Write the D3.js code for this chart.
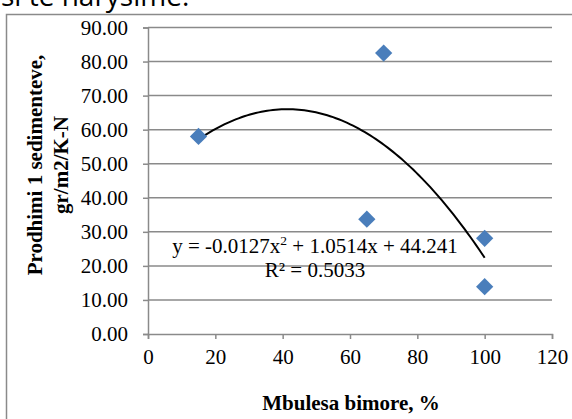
<!DOCTYPE html>
<html>
<head>
<meta charset="utf-8">
<script src="https://cdn.jsdelivr.net/npm/d3@7"></script>
<style>
  html, body { margin: 0; padding: 0; background: #fff; }
  svg { display: block; }
</style>
</head>
<body>
<svg id="chart" width="572" height="419"></svg>
<script>
// Vegetation cover (%) against sediment production
const coverX = [15, 70, 65, 100, 100];
const sedimentY = [58.0, 82.5, 33.7, 28.1, 13.9];
const yTicks = [0, 10, 20, 30, 40, 50, 60, 70, 80, 90];
const xTicks = [0, 20, 40, 60, 80, 100, 120];
// Second-order polynomial trend: y = a x^2 + b x + c
const trendCoef = [-0.0127, 1.0514, 44.241];
const rSquared = "0.5033";

const svg = d3.select("#chart");
const serif = "'Liberation Serif', 'Times New Roman', serif";
const gridColor = "#8a8a8a";
const fs = 21;

// text of the page running above the chart frame
svg.append("text")
  .attr("x", 1).attr("y", 5.5)
  .attr("font-family", "'Open Sans', sans-serif")
  .attr("font-size", 28)
  .attr("fill", "#000")
  .text("si te harysime.");

// chart frame
svg.append("rect")
  .attr("x", 6.5).attr("y", 14.5)
  .attr("width", 600).attr("height", 440)
  .attr("fill", "#fff")
  .attr("stroke", "#8a8a8a").attr("stroke-width", 1.5);

const x = d3.scaleLinear().domain([0, 120]).range([148, 552]);
const y = d3.scaleLinear().domain([0, 90]).range([334, 27.5]);

// horizontal gridlines
svg.append("g")
  .selectAll("line")
  .data(yTicks.filter(d => d > 0))
  .join("line")
  .attr("x1", x(0)).attr("x2", x(120))
  .attr("y1", d => y(d)).attr("y2", d => y(d))
  .attr("stroke", gridColor).attr("stroke-width", 1.5);

// y axis
const yAxis = svg.append("g")
  .attr("transform", `translate(${x(0)},0)`)
  .call(d3.axisLeft(y).tickValues(yTicks).tickFormat(d3.format(".2f")).tickSize(5).tickPadding(15));
// x axis
const xAxis = svg.append("g")
  .attr("transform", `translate(0,${y(0)})`)
  .call(d3.axisBottom(x).tickValues(xTicks).tickSize(5).tickPadding(10));

[yAxis, xAxis].forEach(g => {
  g.select(".domain").attr("stroke", gridColor).attr("stroke-width", 1.5);
  g.selectAll(".tick line").attr("stroke", gridColor).attr("stroke-width", 1.5);
  g.selectAll(".tick text")
    .attr("font-family", serif).attr("font-size", fs).attr("fill", "#000");
});

// trend curve from the fitted equation, over the observed range
const [a, b, c] = trendCoef;
const xMin = d3.min(coverX), xMax = d3.max(coverX);
const curveXs = d3.range(0, 101).map(i => xMin + (xMax - xMin) * i / 100);
svg.append("path")
  .datum(curveXs)
  .attr("fill", "none")
  .attr("stroke", "#000")
  .attr("stroke-width", 2)
  .attr("d", d3.line().x(v => x(v)).y(v => y(a * v * v + b * v + c)));

// diamond markers
svg.append("g")
  .selectAll("path")
  .data(coverX.map((v, i) => [v, sedimentY[i]]))
  .join("path")
  .attr("transform", d => `translate(${x(d[0])},${y(d[1])})`)
  .attr("d", d3.symbol().type(d3.symbolDiamond2).size(190))
  .attr("fill", "#4a7ebb");

// trend equation label
const eq = svg.append("text")
  .attr("x", 315).attr("y", 253)
  .attr("text-anchor", "middle")
  .attr("font-family", serif).attr("font-size", fs).attr("fill", "#000");
eq.append("tspan").text(`y = ${a}x`);
eq.append("tspan").attr("font-size", 13.5).attr("dy", -8).text("2");
eq.append("tspan").attr("dy", 8).text(` + ${b}x + ${c}`);

svg.append("text")
  .attr("x", 315).attr("y", 277)
  .attr("text-anchor", "middle")
  .attr("font-family", serif).attr("font-size", fs).attr("fill", "#000")
  .text(`R² = ${rSquared}`);

// axis titles
svg.append("text")
  .attr("x", 351).attr("y", 410)
  .attr("text-anchor", "middle")
  .attr("font-family", serif).attr("font-size", fs).attr("font-weight", "bold")
  .text("Mbulesa bimore, %");

const yTitle = svg.append("text")
  .attr("transform", "translate(42,165) rotate(-90)")
  .attr("text-anchor", "middle")
  .attr("font-family", serif).attr("font-size", fs).attr("font-weight", "bold");
yTitle.append("tspan").attr("x", 0).attr("y", 0).text("Prodhimi 1 sedimenteve,");
yTitle.append("tspan").attr("x", 0).attr("y", 26).text("gr/m2/K-N");
</script>
</body>
</html>
